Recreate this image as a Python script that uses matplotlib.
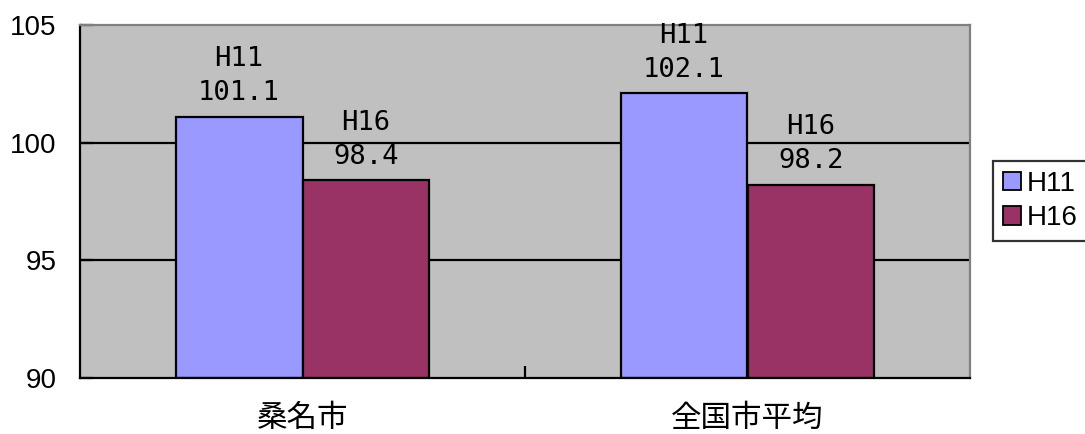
import numpy as np
import matplotlib
matplotlib.use("Agg")
import matplotlib.pyplot as plt
from matplotlib.patches import Patch

# Values per area
categories = ["桑名市", "全国市平均"]
series_names = ["H11", "H16"]
h11_values = [101.1, 102.1]
h16_values = [98.4, 98.2]
y_ticks = [90, 95, 100, 105]

colors = ["#9999FF", "#993366"]

fig = plt.figure(figsize=(10.85, 4.34), dpi=100)
ax = fig.add_axes([80 / 1085, 56 / 434, 890 / 1085, 353 / 434])
ax.set_facecolor("#C0C0C0")

x = np.arange(len(categories))
width = 0.285

# Black horizontal grid lines behind the bars
for yv in y_ticks[1:-1]:
    ax.axhline(yv, color="black", lw=1.6, zorder=1)

for i, (vals, name) in enumerate(zip([h11_values, h16_values], series_names)):
    offs = (i - 0.5) * width
    ax.bar(x + offs, [v - 90 for v in vals], width, bottom=90, color=colors[i],
           edgecolor="black", linewidth=1.6, zorder=2)
    for xi, v in zip(x, vals):
        ax.text(xi + offs, v + 0.45, f"{name}\n{v:.1f}", ha="center", va="bottom",
                fontsize=19.5, family="DejaVu Sans Mono", linespacing=1.4, zorder=3)

ax.set_xlim(-0.5, 1.5)
ax.set_ylim(90, 105)
ax.set_yticks(y_ticks)
ax.set_yticklabels([str(t) for t in y_ticks], fontsize=20, family="Liberation Sans")
ax.tick_params(axis="y", direction="in", length=9, width=1.6, pad=17)

ax.set_xticks(x)
ax.set_xticklabels(categories, fontsize=22, family=["Noto Sans CJK JP", "DejaVu Sans"])
ax.tick_params(axis="x", which="major", length=0, pad=18)
ax.set_xticks([0.5], minor=True)
ax.tick_params(axis="x", which="minor", direction="in", length=9, width=1.6)

for side in ["left", "bottom"]:
    ax.spines[side].set_color("black")
    ax.spines[side].set_linewidth(1.6)
for side in ["top", "right"]:
    ax.spines[side].set_color("#808080")
    ax.spines[side].set_linewidth(1.6)

handles = [Patch(facecolor=c, edgecolor="black", linewidth=1.3) for c in colors]
leg = fig.legend(handles, series_names, loc="upper left", bbox_to_anchor=(993 / 1085, 1 - 161 / 434),
                 frameon=True, fancybox=False, edgecolor="black",
                 prop={"family": "Liberation Sans", "size": 20},
                 handlelength=0.65, handleheight=0.65, handletextpad=0.2,
                 borderpad=0.35, labelspacing=0.3, borderaxespad=0)
leg.get_frame().set_linewidth(1.6)

fig.savefig("out.png", dpi=100)
